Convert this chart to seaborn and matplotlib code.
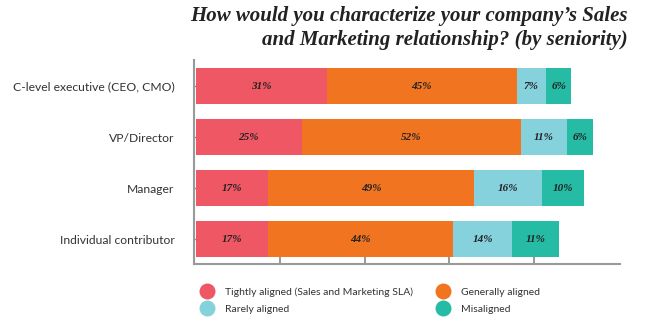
import matplotlib
matplotlib.use("Agg")
import matplotlib.pyplot as plt
from matplotlib.lines import Line2D
import seaborn as sns
import pandas as pd
import numpy as np

categories = ["C-level executive (CEO, CMO)", "VP/Director", "Manager", "Individual contributor"]
series_names = ["Tightly aligned (Sales and Marketing SLA)", "Generally aligned", "Rarely aligned", "Misaligned"]
tightly = [31, 25, 17, 17]
generally = [45, 52, 49, 44]
rarely = [7, 11, 16, 14]
misaligned = [6, 6, 10, 11]
colors = ["#EE5763", "#F17521", "#85D1DC", "#25BBA4"]
title = "How would you characterize your company\u2019s Sales\nand Marketing relationship? (by seniority)"

sns.set_theme(style="white")
plt.rcParams["font.family"] = ["Lato", "DejaVu Sans"]

series = [tightly, generally, rarely, misaligned]
vals = np.array(series, dtype=float)
cum = np.cumsum(vals, axis=0)

fig = plt.figure(figsize=(6.59, 3.27), dpi=100)
ax = fig.add_axes([194/659, 1-264/327, 426/659, 204/327])

# draw cumulative totals from the back to front to create stacked bars
for i in range(3, -1, -1):
    df = pd.DataFrame({"cat": categories, "val": cum[i]})
    sns.barplot(data=df, y="cat", x="val", orient="h", color=colors[i],
                saturation=1, width=0.725, ax=ax, linewidth=0)

# segment labels
for i in range(4):
    for j, cat in enumerate(categories):
        left = cum[i][j] - vals[i][j]
        ax.text(left + vals[i][j] / 2, j, f"{int(vals[i][j])}%",
                ha="center", va="center", fontsize=8,
                family="Liberation Serif", style="italic", weight="bold",
                color="#222222")

ax.set_xlim(-0.5, 100.5)
ax.set_ylim(3.49, -0.51)
ax.set_xlabel("")
ax.set_ylabel("")
ax.set_xticks([20, 40, 60, 80])
ax.set_xticklabels([])
ax.tick_params(axis="x", direction="in", length=5, width=1.2, color="#888888", bottom=True)
ax.tick_params(axis="y", direction="in", length=2.5, width=1, color="#888888", left=True,
               labelsize=8.7, labelcolor="#333333", pad=14)
for s in ["top", "right"]:
    ax.spines[s].set_visible(False)
for s in ["left", "bottom"]:
    ax.spines[s].set_color("#999999")
    ax.spines[s].set_linewidth(1.5)

fig.text(628/659, 1-6/327, title, ha="right", va="top", fontsize=15,
         family="Liberation Serif", style="italic", weight="bold",
         color="#222222", linespacing=1.3)

order = [0, 2, 1, 3]
handles = [Line2D([], [], marker="o", linestyle="", markersize=11.5,
                  markerfacecolor=colors[k], markeredgewidth=0) for k in order]
labels = [series_names[k] for k in order]
fig.legend(handles, labels, ncol=2, loc="upper left",
           bbox_to_anchor=(193/659, 1-280/327), frameon=False,
           fontsize=7.5, labelcolor="#333333", handletextpad=1.1,
           columnspacing=2.2, labelspacing=0.75, handlelength=1.3,
           borderpad=0.2)

fig.savefig("out.png", dpi=100)
